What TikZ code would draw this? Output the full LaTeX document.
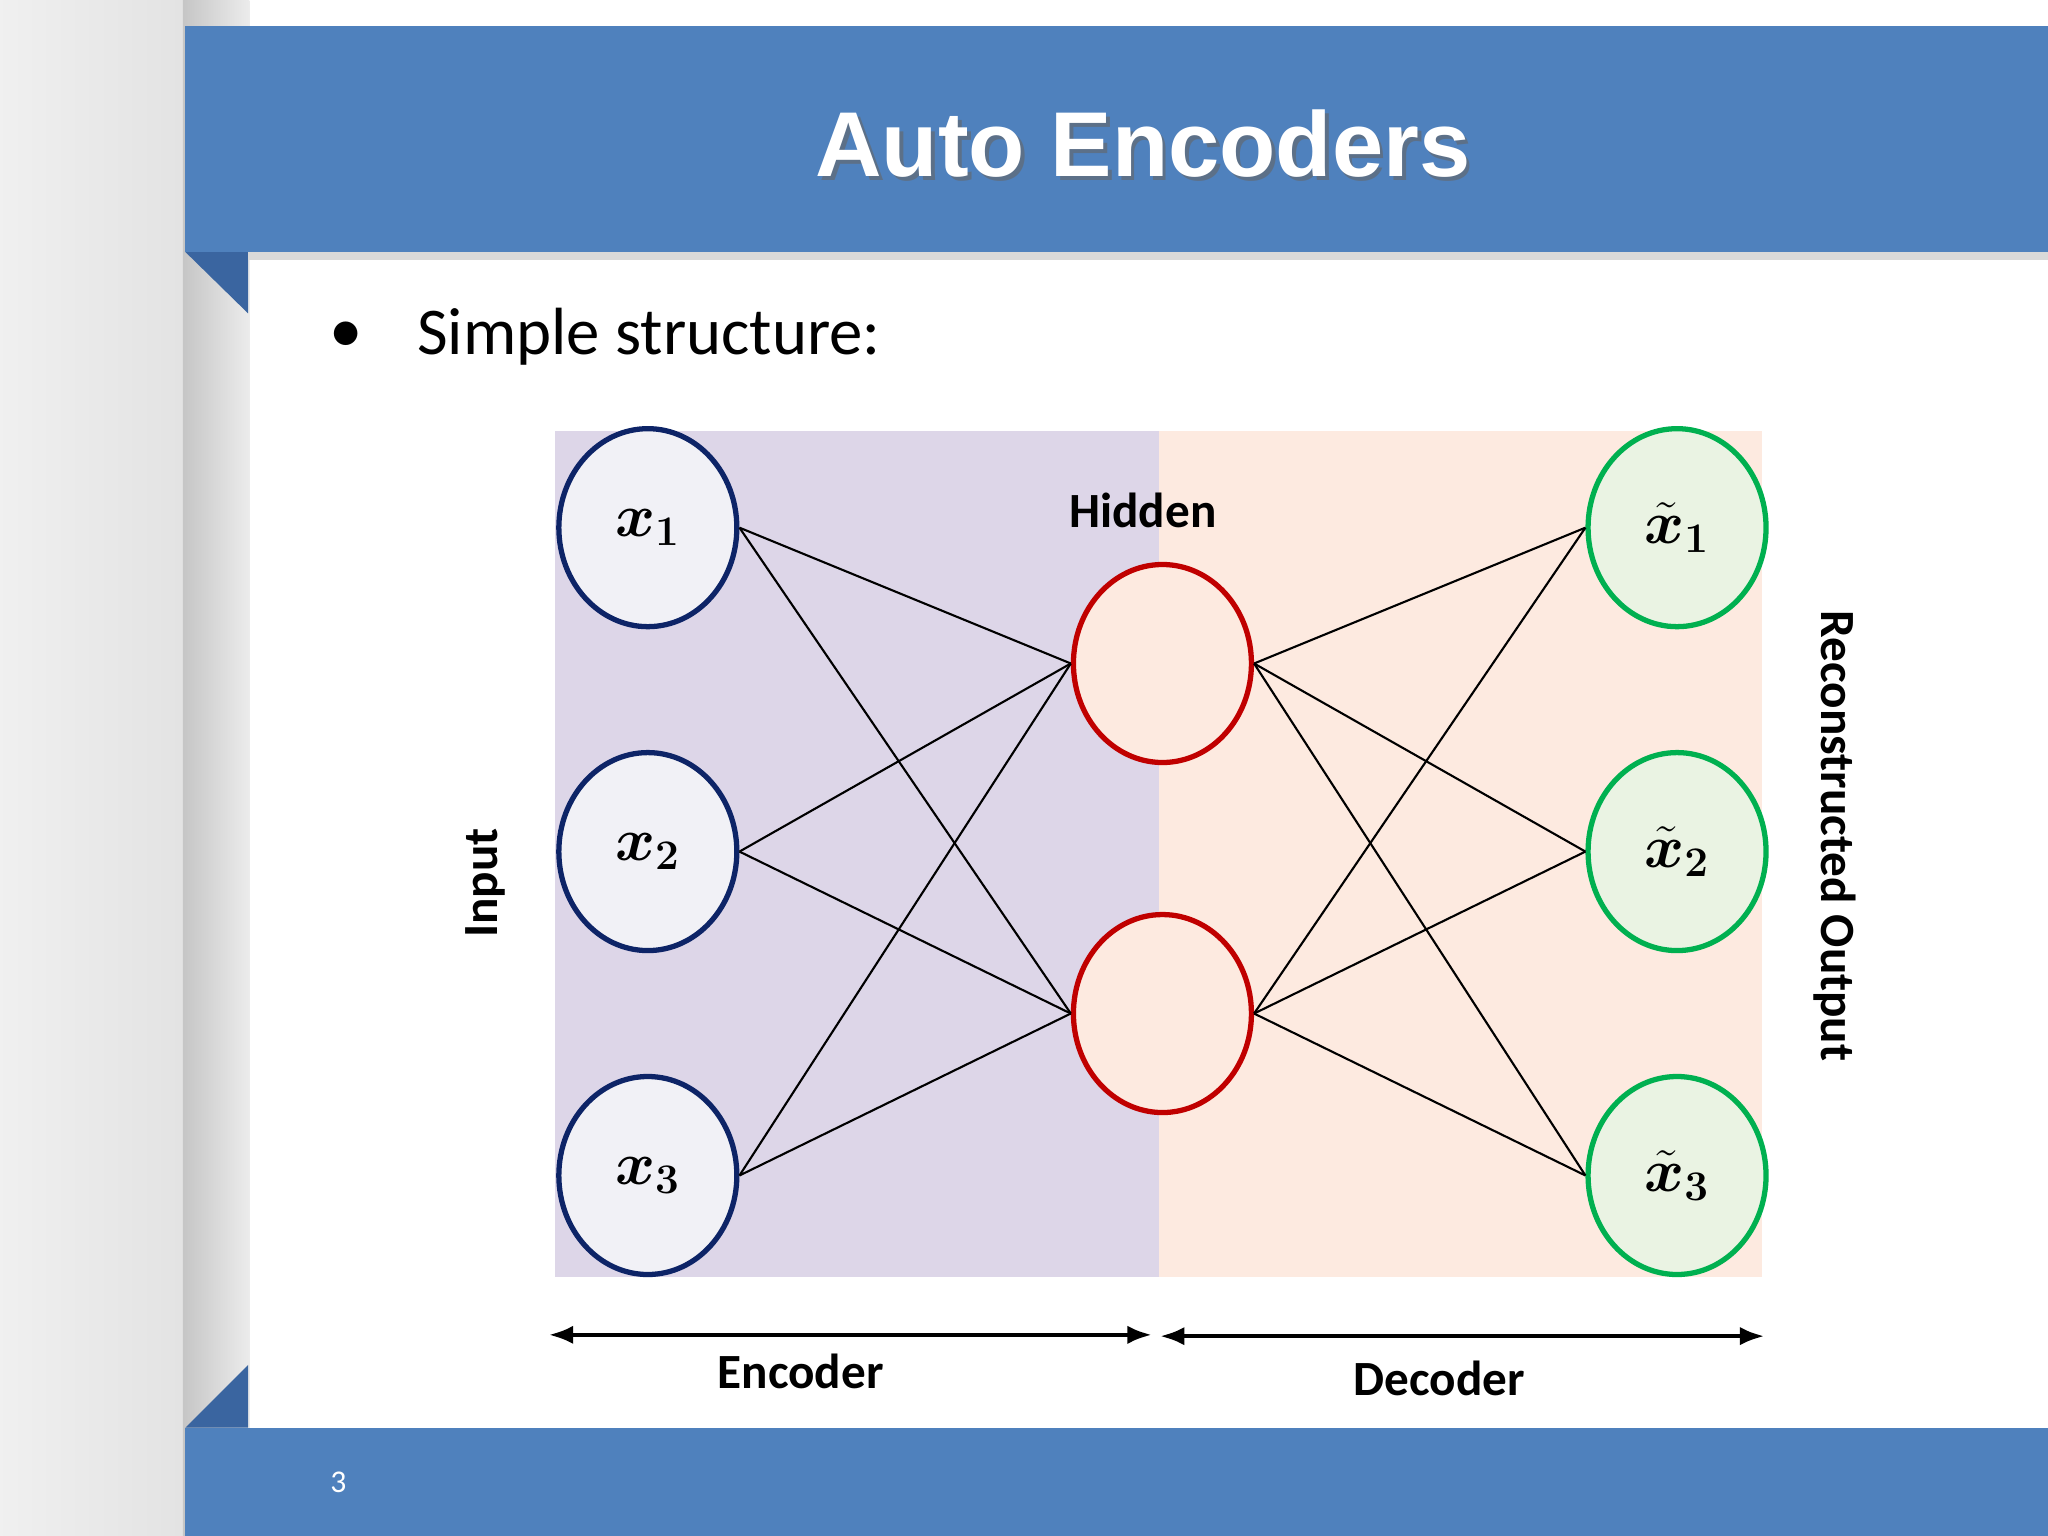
\documentclass[tikz,border=0pt]{standalone}
\usepackage{fontspec}
\usepackage{amsmath,bm}
\setmainfont{Carlito}
\newfontfamily\titlefont{Liberation Sans}
\usetikzlibrary{shapes.geometric,arrows.meta}
\definecolor{ban}{HTML}{4F81BD}
\definecolor{band}{HTML}{3A65A0}
\definecolor{purp}{HTML}{DDD6E8}
\definecolor{peach}{HTML}{FDEAE0}
\definecolor{inb}{HTML}{0D2467}
\definecolor{inf}{HTML}{F1F1F6}
\definecolor{hidb}{HTML}{C00000}
\definecolor{outb}{HTML}{00B050}
\definecolor{outf}{HTML}{EAF3E3}
\begin{document}
\begin{tikzpicture}[x=0.013061cm,y=-0.013061cm,
  nd/.style={ellipse,minimum width=1.78cm,minimum height=1.98cm,inner sep=0pt,line width=1.5pt,font=\fontsize{17}{20}\selectfont},
  inn/.style={nd,draw=inb,fill=inf},
  hid/.style={nd,draw=hidb,fill=peach},
  outn/.style={nd,draw=outb,fill=outf},
  lbl/.style={font=\fontsize{14}{16}\selectfont\bfseries},
  ttl/.style={font=\titlefont\bfseries\fontsize{26.2}{31}\selectfont},
  ed/.style={line width=0.6pt},
  arr/.style={line width=1.3pt,{Latex[length=7pt]}-{Latex[length=7pt]}}]
\useasboundingbox (0,0) rectangle (1568,1176);
\fill[white] (0,0) rectangle (1568,1176);
\shade[left color=gray!12,right color=gray!22] (0,0) rectangle (140,1176);
\shade[left color=gray!45,right color=gray!15] (140,0) rectangle (191,1176);
% banners
\fill[band] (142,193) -- (190,193) -- (190,240) -- cycle;
\fill[band] (142,1093) -- (190,1045) -- (190,1093) -- cycle;
\fill[ban] (142,20) rectangle (1568,193);
\fill[ban] (142,1093) rectangle (1568,1176);
\fill[gray!30] (190,193) rectangle (1568,199);
\node[ttl,text=black!60,opacity=0.6] (tshadow) at (878,113) {Auto Encoders};
\node[ttl,text=white] (title) at (875,110) {Auto Encoders};
\node[text=white,font=\fontsize{9}{10}\selectfont] (pg) at (259,1135) {3};
\node[font=\fontsize{19}{22}\selectfont] (bul) at (265,258) {\textbullet};
\node[anchor=west,font=\fontsize{19}{22}\selectfont] (b) at (310,258) {Simple structure:};
% panels
\fill[purp] (425,330) rectangle (887,978);
\fill[peach] (887,330) rectangle (1349,978);
% nodes
\node[inn] (x1) at (496,404) {$\bm{x}_{\bm 1}$};
\node[inn] (x2) at (496,652) {$\bm{x}_{\bm 2}$};
\node[inn] (x3) at (496,900) {$\bm{x}_{\bm 3}$};
\node[hid] (h1) at (890,508) {};
\node[hid] (h2) at (890,776) {};
\node[outn] (y1) at (1284,404) {$\tilde{\bm{x}}_{\bm 1}$};
\node[outn] (y2) at (1284,652) {$\tilde{\bm{x}}_{\bm 2}$};
\node[outn] (y3) at (1284,900) {$\tilde{\bm{x}}_{\bm 3}$};
\foreach \a in {x1,x2,x3}{\foreach \b in {h1,h2}{\draw[ed] (\a.east) -- (\b.west);}}
\foreach \a in {h1,h2}{\foreach \b in {y1,y2,y3}{\draw[ed] (\a.east) -- (\b.west);}}
% labels
\node[lbl] (hl) at (875,391) {Hidden};
\node[lbl,rotate=90] (il) at (372,676) {Input};
\node[lbl,rotate=-90] (ol) at (1405,640) {Reconstructed Output};
\coordinate (e1) at (420,1022); \coordinate (e2) at (882,1022);
\coordinate (d1) at (888,1023); \coordinate (d2) at (1351,1023);
\draw[arr] (e1) -- (e2);
\draw[arr] (d1) -- (d2);
\node[lbl] (enc) at (613,1050) {Encoder};
\node[lbl] (dec) at (1102,1055) {Decoder};
\end{tikzpicture}
\end{document}
